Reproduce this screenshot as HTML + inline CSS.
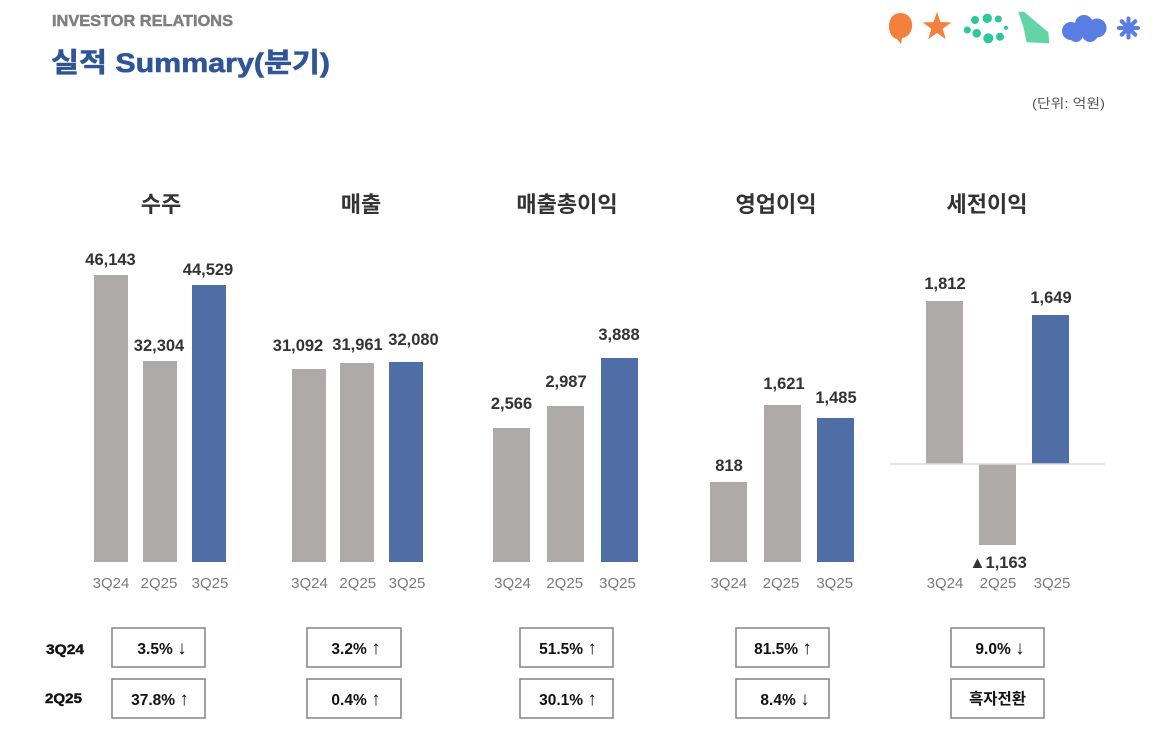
<!DOCTYPE html>
<html><head><meta charset="utf-8">
<style>
html,body{margin:0;padding:0;background:#fff;}
svg{display:block;}
text{font-family:"Liberation Sans","Noto Sans CJK KR",sans-serif;}
.v{font-weight:bold;font-size:16.5px;fill:#333;text-anchor:middle;}
.c{font-size:15px;fill:#7a7a7a;text-anchor:middle;}
.t{font-weight:bold;font-size:22px;fill:#333;text-anchor:middle;}
.b{font-weight:bold;font-size:15.5px;fill:#111;text-anchor:middle;}
.a{font-weight:normal;font-size:19px;}
.box{fill:#fff;stroke:#8a8a8a;stroke-width:1.6;}
.g{fill:#aeaaaa;}
.bl{fill:#4e6ea5;}
</style></head>
<body>
<svg width="1154" height="740" viewBox="0 0 1154 740" xmlns="http://www.w3.org/2000/svg">
<rect width="1154" height="740" fill="#fff"/>
<!-- header -->
<text x="52" y="26" font-size="16" font-weight="bold" fill="#7f7f7f" stroke="#7f7f7f" stroke-width="0.5" textLength="181" lengthAdjust="spacingAndGlyphs">INVESTOR RELATIONS</text>
<text x="51" y="72" font-size="27" font-weight="bold" fill="#2f5597" stroke="#2f5597" stroke-width="0.6" textLength="279" lengthAdjust="spacingAndGlyphs">실적 Summary(분기)</text>
<text x="1032" y="108" font-size="13" fill="#555" textLength="73" lengthAdjust="spacingAndGlyphs">(단위: 억원)</text>

<!-- icons -->
<path d="M900 13 C908 13 913 19 912 27 C911 35 905 38 902 38 L901 44 L897 39 C892 38 889 33 889 26 C889 18 894 13 900 13 Z" fill="#f4803e"/>
<polygon points="937,12 940.5,22.1 951.3,22.4 942.7,28.9 945.8,39.1 937,33 928.2,39.1 931.3,28.9 922.7,22.4 933.5,22.1" fill="#f4803e"/>
<g fill="#2cc79b">
<circle cx="975" cy="20" r="4"/><circle cx="987.3" cy="18.3" r="4.7"/><circle cx="998.3" cy="19" r="3.5"/><circle cx="1006" cy="27.7" r="2"/>
<circle cx="967.3" cy="30" r="3.5"/><circle cx="976.7" cy="33.3" r="4.3"/><circle cx="988.3" cy="38.3" r="5"/><circle cx="1000" cy="36.7" r="4"/>
</g>
<polygon points="1018.3,11.7 1024,11.7 1048.3,32.3 1049.3,43.3 1026.7,42.3 1023.3,26.7" fill="#62d4a8"/>
<g fill="#5a7de4">
<circle cx="1071" cy="31" r="9"/><circle cx="1084" cy="24" r="9"/><circle cx="1097" cy="28" r="9.5"/><circle cx="1090" cy="34" r="8"/><circle cx="1076" cy="35" r="7"/>
</g>
<g stroke="#5a7de4" stroke-width="4" stroke-linecap="round">
<line x1="1128.5" y1="18.5" x2="1128.5" y2="37.5"/><line x1="1119" y1="28" x2="1138" y2="28"/>
<line x1="1121.8" y1="21.3" x2="1135.2" y2="34.7"/><line x1="1121.8" y1="34.7" x2="1135.2" y2="21.3"/>
</g>

<!-- chart titles -->
<text class="t" x="161" y="212">수주</text>
<text class="t" x="361" y="212">매출</text>
<text class="t" x="567" y="212">매출총이익</text>
<text class="t" x="776" y="212">영업이익</text>
<text class="t" x="987" y="212">세전이익</text>

<!-- group 1 -->
<rect class="g" x="94" y="275" width="34" height="287"/>
<rect class="g" x="143" y="361" width="34" height="201"/>
<rect class="bl" x="192" y="285" width="34" height="277"/>
<text class="v" x="110.5" y="265">46,143</text>
<text class="v" x="159" y="351">32,304</text>
<text class="v" x="208" y="275">44,529</text>

<!-- group 2 -->
<rect class="g" x="292" y="369" width="34" height="193"/>
<rect class="g" x="340" y="363" width="34" height="199"/>
<rect class="bl" x="389" y="362" width="34" height="200"/>
<text class="v" x="298" y="351">31,092</text>
<text class="v" x="357.5" y="350">31,961</text>
<text class="v" x="413.5" y="345">32,080</text>

<!-- group 3 -->
<rect class="g" x="493" y="428" width="37" height="134"/>
<rect class="g" x="547" y="406" width="37" height="156"/>
<rect class="bl" x="601" y="358" width="37" height="204"/>
<text class="v" x="511.5" y="409">2,566</text>
<text class="v" x="566" y="387">2,987</text>
<text class="v" x="619" y="340">3,888</text>

<!-- group 4 -->
<rect class="g" x="710" y="482" width="37" height="80"/>
<rect class="g" x="764" y="405" width="37" height="157"/>
<rect class="bl" x="817" y="418" width="37" height="144"/>
<text class="v" x="729" y="471">818</text>
<text class="v" x="784" y="389">1,621</text>
<text class="v" x="836" y="403">1,485</text>

<!-- group 5 -->
<rect class="g" x="926" y="301" width="37" height="163"/>
<rect class="g" x="979" y="464" width="37" height="81"/>
<rect class="bl" x="1032" y="315" width="37" height="149"/>
<line x1="890" y1="464" x2="1105" y2="464" stroke="#dcdcdc" stroke-width="1.5"/>
<text class="v" x="945" y="289">1,812</text>
<text class="v" x="1051" y="303">1,649</text>
<text class="v" x="998" y="568">▲1,163</text>

<!-- category labels -->
<g>
<text class="c" x="111" y="588">3Q24</text><text class="c" x="159" y="588">2Q25</text><text class="c" x="210" y="588">3Q25</text>
<text class="c" x="309.5" y="588">3Q24</text><text class="c" x="357.7" y="588">2Q25</text><text class="c" x="407" y="588">3Q25</text>
<text class="c" x="512.5" y="588">3Q24</text><text class="c" x="564.7" y="588">2Q25</text><text class="c" x="617.5" y="588">3Q25</text>
<text class="c" x="728.8" y="588">3Q24</text><text class="c" x="781" y="588">2Q25</text><text class="c" x="834.7" y="588">3Q25</text>
<text class="c" x="945" y="588">3Q24</text><text class="c" x="998" y="588">2Q25</text><text class="c" x="1052" y="588">3Q25</text>
</g>

<!-- table -->
<text x="46" y="654" font-size="14" font-weight="bold" fill="#111" stroke="#111" stroke-width="0.4" textLength="38" lengthAdjust="spacingAndGlyphs">3Q24</text>
<text x="45" y="703" font-size="14" font-weight="bold" fill="#111" stroke="#111" stroke-width="0.4" textLength="37" lengthAdjust="spacingAndGlyphs">2Q25</text>

<rect class="box" x="112" y="628" width="93" height="39"/>
<rect class="box" x="112" y="679" width="93" height="39"/>
<rect class="box" x="307" y="628" width="94" height="39"/>
<rect class="box" x="307" y="679" width="94" height="39"/>
<rect class="box" x="520" y="628" width="93" height="39"/>
<rect class="box" x="520" y="679" width="93" height="39"/>
<rect class="box" x="736" y="628" width="93" height="39"/>
<rect class="box" x="736" y="679" width="93" height="39"/>
<rect class="box" x="951" y="628" width="93" height="39"/>
<rect class="box" x="951" y="679" width="93" height="39"/>

<text class="b" x="162" y="654">3.5% <tspan class="a">↓</tspan></text>
<text class="b" x="160" y="705">37.8% <tspan class="a">↑</tspan></text>
<text class="b" x="356" y="654">3.2% <tspan class="a">↑</tspan></text>
<text class="b" x="356" y="705">0.4% <tspan class="a">↑</tspan></text>
<text class="b" x="568" y="654">51.5% <tspan class="a">↑</tspan></text>
<text class="b" x="568" y="705">30.1% <tspan class="a">↑</tspan></text>
<text class="b" x="783" y="654">81.5% <tspan class="a">↑</tspan></text>
<text class="b" x="785" y="705">8.4% <tspan class="a">↓</tspan></text>
<text class="b" x="1000" y="654">9.0% <tspan class="a">↓</tspan></text>
<text class="b" x="997.5" y="704">흑자전환</text>
</svg>
</body></html>
